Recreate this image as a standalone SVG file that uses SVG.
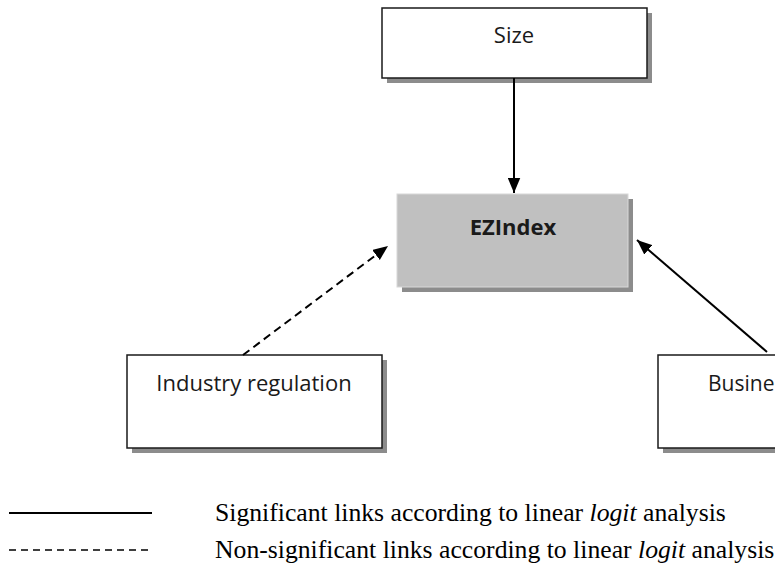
<svg xmlns="http://www.w3.org/2000/svg" width="775" height="575" viewBox="0 0 775 575">
<style>
.shadow{fill:#8c8c8c}
.box{fill:#ffffff;stroke:#1a1a1a;stroke-width:1.5}
.gbox{fill:#c0c0c0;stroke:#d8d8d8;stroke-width:1}
.lbl{font-family:"Open Sans","Liberation Sans",sans-serif;font-size:22px;fill:#1a1a1a;text-anchor:middle}
.bold{font-weight:bold}
.leg{font-family:"Liberation Serif",serif;font-size:25.7px;fill:#000}
.ln{stroke:#000;stroke-width:2;fill:none}
.dash{stroke-dasharray:8,5}
</style>
<defs>
<marker id="ah" viewBox="0 0 12 10" refX="12" refY="5" markerWidth="15" markerHeight="13" markerUnits="userSpaceOnUse" orient="auto">
<path d="M0,0 L12,5 L0,10 Z" fill="#000"/>
</marker>
</defs>
<g id="node-size">
<rect class="shadow" x="387" y="13" width="265" height="70"/>
<rect class="box" x="382" y="8" width="265" height="70"/>
<text class="lbl" x="514" y="43">Size</text>
</g>
<g id="node-ezindex">
<rect class="shadow" x="402" y="199" width="231" height="93"/>
<rect class="gbox" x="397" y="194" width="231" height="93"/>
<text class="lbl bold" x="513" y="235">EZIndex</text>
</g>
<g id="node-industry">
<rect class="shadow" x="132" y="360" width="255" height="93"/>
<rect class="box" x="127" y="355" width="255" height="93"/>
<text class="lbl" x="254" y="391">Industry regulation</text>
</g>
<g id="node-business">
<rect class="shadow" x="663" y="360" width="130" height="93"/>
<rect class="box" x="658" y="355" width="130" height="93"/>
<text x="708" y="391" style="font-family:'Open Sans','Liberation Sans',sans-serif;font-size:21px;fill:#1a1a1a">Busine</text>
</g>
<g id="connectors">
<line class="ln" x1="514" y1="78" x2="514" y2="193" marker-end="url(#ah)"/>
<line class="ln dash" x1="243" y1="355" x2="388" y2="246" marker-end="url(#ah)"/>
<line class="ln" x1="767" y1="352" x2="637" y2="240" marker-end="url(#ah)"/>
</g>
<g id="legend">
<line class="ln" x1="9" y1="513" x2="152" y2="513"/>
<line x1="9" y1="550" x2="152" y2="550" stroke="#000" stroke-width="1.5" stroke-dasharray="7,5"/>
<text class="leg" x="215" y="521">Significant links according to linear <tspan font-style="italic">logit</tspan> analysis</text>
<text class="leg" x="215" y="558">Non-significant links according to linear <tspan font-style="italic">logit</tspan> analysis</text>
</g>
</svg>
